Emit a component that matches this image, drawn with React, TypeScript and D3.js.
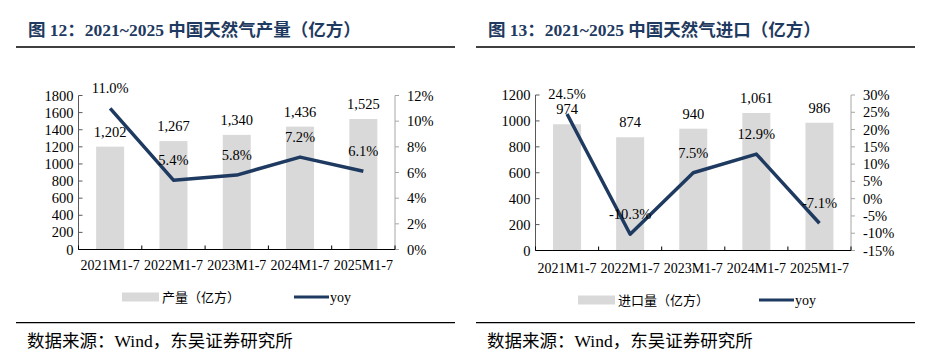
import React from "react";
import * as d3 from "d3";

const categories = ["2021M1-7", "2022M1-7", "2023M1-7", "2024M1-7", "2025M1-7"];
const production = [1202, 1267, 1340, 1436, 1525];
const productionYoy = [11.0, 5.4, 5.8, 7.2, 6.1];
const imports = [974, 874, 940, 1061, 986];
const importsYoy = [24.5, -10.3, 7.5, 12.9, -7.1];
const prodLeftTicks = [0, 200, 400, 600, 800, 1000, 1200, 1400, 1600, 1800];
const prodRightTicks = [0, 2, 4, 6, 8, 10, 12];
const importLeftTicks = [0, 200, 400, 600, 800, 1000, 1200];
const importRightTicks = [-15, -10, -5, 0, 5, 10, 15, 20, 25, 30];

const NUM_FONT = "'Times New Roman', 'Liberation Serif', 'Noto Sans CJK SC', serif";
const CJK_FONT = "'Liberation Serif', 'Noto Sans CJK SC', serif";
const NAVY = "#1f3a60";
const BAR = "#d9d9d9";

type PanelProps = {
  title: string;
  barName: string;
  bars: number[];
  yoy: number[];
  leftTicks: number[];
  rightTicks: number[];
  ox: number;
  x0: number;
  x1: number;
  yTop: number;
  yBot: number;
  xLabelY: number;
  legendY: number;
  legRectX: number;
  legLineX: number;
};

function Panel(p: PanelProps) {
  const n = categories.length;
  const step = (p.x1 - p.x0) / n;
  const pad = 1 - 28 / step;
  const x = d3.scaleBand<string>().domain(categories).range([p.x0, p.x1]).paddingInner(pad).paddingOuter(pad / 2);
  const yL = d3.scaleLinear().domain([p.leftTicks[0], p.leftTicks[p.leftTicks.length - 1]]).range([p.yBot, p.yTop]);
  const yR = d3.scaleLinear().domain([p.rightTicks[0], p.rightTicks[p.rightTicks.length - 1]]).range([p.yBot, p.yTop]);
  const cx = (c: string) => (x(c) as number) + x.bandwidth() / 2;
  const line = d3.line<number>().x((_, i) => cx(categories[i])).y((v) => yR(v));
  const fmt = d3.format(",");
  const bounds = d3.range(n + 1).map((i) => p.x0 + i * step);
  return (
    <g>
      <text x={p.ox + 12} y={36} fontFamily={CJK_FONT} fontWeight="bold" fontSize={17.5} fill={NAVY}>{p.title}</text>
      <line x1={p.ox} x2={p.ox + 439} y1={47} y2={47} stroke="#000" strokeWidth={1.5} />
      {categories.map((c, i) => (
        <rect key={c} x={x(c)} y={yL(p.bars[i])} width={x.bandwidth()} height={yL(0) - yL(p.bars[i])} fill={BAR} />
      ))}
      {/* left axis */}
      <line x1={p.x0} x2={p.x0} y1={p.yTop} y2={p.yBot} stroke="#595959" />
      {p.leftTicks.map((t) => (
        <g key={"l" + t}>
          <line x1={p.x0} x2={p.x0 + 4} y1={yL(t)} y2={yL(t)} stroke="#595959" />
          <text x={p.x0 - 5} y={yL(t)} dy="0.35em" textAnchor="end" fontFamily={NUM_FONT} fontSize={14.5} fill="#000">{t}</text>
        </g>
      ))}
      {/* right axis */}
      <line x1={p.x1} x2={p.x1} y1={p.yTop} y2={p.yBot} stroke="#a6a6a6" />
      {p.rightTicks.map((t) => (
        <g key={"r" + t}>
          <line x1={p.x1} x2={p.x1 + 4} y1={yR(t)} y2={yR(t)} stroke="#a6a6a6" />
          <text x={p.x1 + 12} y={yR(t)} dy="0.35em" textAnchor="start" fontFamily={NUM_FONT} fontSize={14.5} fill="#000">{t + "%"}</text>
        </g>
      ))}
      {/* bottom axis */}
      <line x1={p.x0} x2={p.x1} y1={p.yBot} y2={p.yBot} stroke="#000" />
      {bounds.map((b, i) => (
        <line key={"b" + i} x1={b} x2={b} y1={p.yBot} y2={p.yBot - 4} stroke="#000" />
      ))}
      {categories.map((c) => (
        <text key={"x" + c} x={cx(c)} y={p.xLabelY} dy="0.35em" textAnchor="middle" fontFamily={NUM_FONT} fontSize={14} fill="#000">{c}</text>
      ))}
      <path d={line(p.yoy) || ""} fill="none" stroke={NAVY} strokeWidth={3.5} strokeLinejoin="round" />
      {categories.map((c, i) => (
        <text key={"bl" + c} x={cx(c)} y={yL(p.bars[i]) - 15} dy="0.35em" textAnchor="middle" fontFamily={NUM_FONT} fontSize={14.5} fill="#000">{fmt(p.bars[i])}</text>
      ))}
      {categories.map((c, i) => (
        <text key={"yl" + c} x={cx(c)} y={yR(p.yoy[i]) - 20} dy="0.35em" textAnchor="middle" fontFamily={NUM_FONT} fontSize={14.5} fill="#000">{p.yoy[i].toFixed(1) + "%"}</text>
      ))}
      {/* legend */}
      <rect x={p.legRectX} y={p.legendY - 4.5} width={37} height={9} fill={BAR} />
      <text x={p.legRectX + 40} y={p.legendY} dy="0.35em" fontFamily={CJK_FONT} fontSize={13} fill="#000">{p.barName}</text>
      <line x1={p.legLineX} x2={p.legLineX + 35} y1={p.legendY} y2={p.legendY} stroke={NAVY} strokeWidth={3} />
      <text x={p.legLineX + 36} y={p.legendY} dy="0.35em" fontFamily={NUM_FONT} fontSize={14} fill="#000">yoy</text>
      <line x1={p.ox} x2={p.ox + 439} y1={322.7} y2={322.7} stroke="#000" strokeWidth={1.2} />
      <text x={p.ox + 11} y={340.5} dy="0.35em" fontFamily={CJK_FONT} fontSize={17.5} fill="#000">数据来源：Wind，东吴证券研究所</text>
    </g>
  );
}

export default function App() {
  return (
    <svg width={929} height={357} style={{ position: "absolute", left: 0, top: 0, background: "#fff" }}>
      <rect width={929} height={357} fill="#fff" />
      <Panel
        title="图 12：2021~2025 中国天然气产量（亿方）"
        barName="产量（亿方）"
        bars={production}
        yoy={productionYoy}
        leftTicks={prodLeftTicks}
        rightTicks={prodRightTicks}
        ox={16}
        x0={78.5}
        x1={395}
        yTop={95.5}
        yBot={249.5}
        xLabelY={265}
        legendY={297}
        legRectX={122}
        legLineX={294}
      />
      <Panel
        title="图 13：2021~2025 中国天然气进口（亿方）"
        barName="进口量（亿方）"
        bars={imports}
        yoy={importsYoy}
        leftTicks={importLeftTicks}
        rightTicks={importRightTicks}
        ox={476}
        x0={535.5}
        x1={851}
        yTop={95}
        yBot={250.5}
        xLabelY={268}
        legendY={300}
        legRectX={578}
        legLineX={759}
      />
    </svg>
  );
}
